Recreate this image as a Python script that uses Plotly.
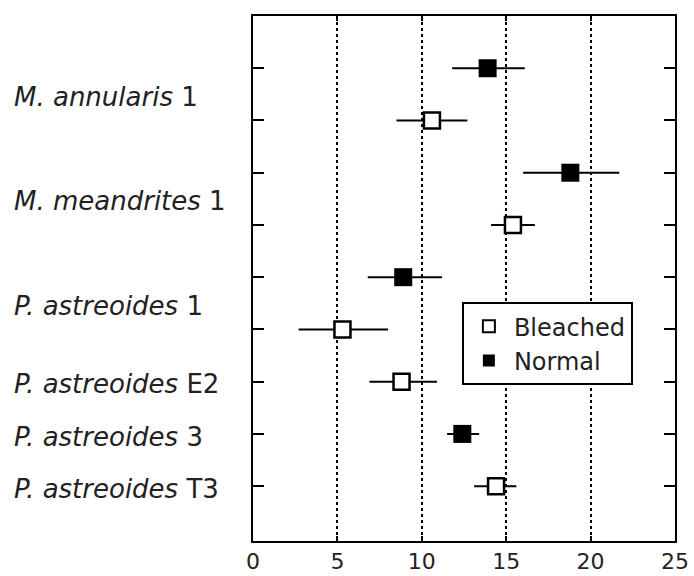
import plotly.graph_objects as go

# Rows (1 = top)
bleached_rows = [2, 4, 6, 7, 9]
bleached_vals = [10.6, 15.4, 5.3, 8.8, 14.4]
bleached_plus = [2.1, 1.3, 2.7, 2.1, 1.2]
bleached_minus = [2.1, 1.3, 2.6, 1.9, 1.3]

normal_rows = [1, 3, 5, 8]
normal_vals = [13.9, 18.8, 8.9, 12.4]
normal_plus = [2.2, 2.9, 2.3, 1.0]
normal_minus = [2.1, 2.8, 2.1, 0.9]

label_rows = [1.55, 3.55, 5.55, 7.05, 8.05, 9.05]
label_species = ["M. annularis", "M. meandrites", "P. astreoides", "P. astreoides", "P. astreoides", "P. astreoides"]
label_ids = ["1", "1", "1", "E2", "3", "T3"]

x_ticks = [0, 5, 10, 15, 20, 25]

FONT = "DejaVu Sans"

fig = go.Figure()
fig.add_trace(go.Scatter(
    x=bleached_vals, y=bleached_rows, mode="markers", name="Bleached",
    marker=dict(symbol="square", size=16, color="white", line=dict(color="black", width=2.5)),
    error_x=dict(type="data", symmetric=False, array=bleached_plus, arrayminus=bleached_minus,
                 color="black", thickness=2, width=0),
))
fig.add_trace(go.Scatter(
    x=normal_vals, y=normal_rows, mode="markers", name="Normal",
    marker=dict(symbol="square", size=18, color="black", line=dict(color="black", width=0)),
    error_x=dict(type="data", symmetric=False, array=normal_plus, arrayminus=normal_minus,
                 color="black", thickness=2, width=0),
))

for r, sp, i in zip(label_rows, label_species, label_ids):
    fig.add_annotation(
        x=-0.57, xref="paper", y=r, yref="y", xanchor="left", yanchor="middle",
        text=f"<i>{sp}</i> {i}", showarrow=False,
        font=dict(family=FONT, size=26, color="#222222"),
    )

fig.update_xaxes(
    range=[0, 25], tickvals=x_ticks, ticktext=[str(v) for v in x_ticks],
    showline=True, linecolor="black", linewidth=2, mirror="ticks",
    ticks="inside", ticklen=5, tickwidth=2, tickcolor="black",
    showgrid=True, gridcolor="black", gridwidth=1.5, griddash="dot",
    zeroline=False, automargin=False,
    tickfont=dict(family=FONT, size=22, color="#222222"),
)
fig.update_yaxes(
    range=[10.05, 0], tickvals=list(range(1, 10)), showticklabels=False,
    showline=True, linecolor="black", linewidth=2, mirror="ticks",
    ticks="inside", ticklen=11, tickwidth=2, tickcolor="black",
    showgrid=False, zeroline=False, automargin=False,
)

fig.update_layout(
    width=694, height=576,
    margin=dict(l=253, r=19, t=16, b=35),
    plot_bgcolor="white", paper_bgcolor="white",
    showlegend=True,
    legend=dict(
        x=0.495, y=0.455, xanchor="left", yanchor="top",
        bgcolor="white", bordercolor="black", borderwidth=2,
        font=dict(family=FONT, size=24, color="#222222"),
        itemsizing="constant", itemwidth=40, tracegroupgap=0,
    ),
)

fig.write_html("out.html")
